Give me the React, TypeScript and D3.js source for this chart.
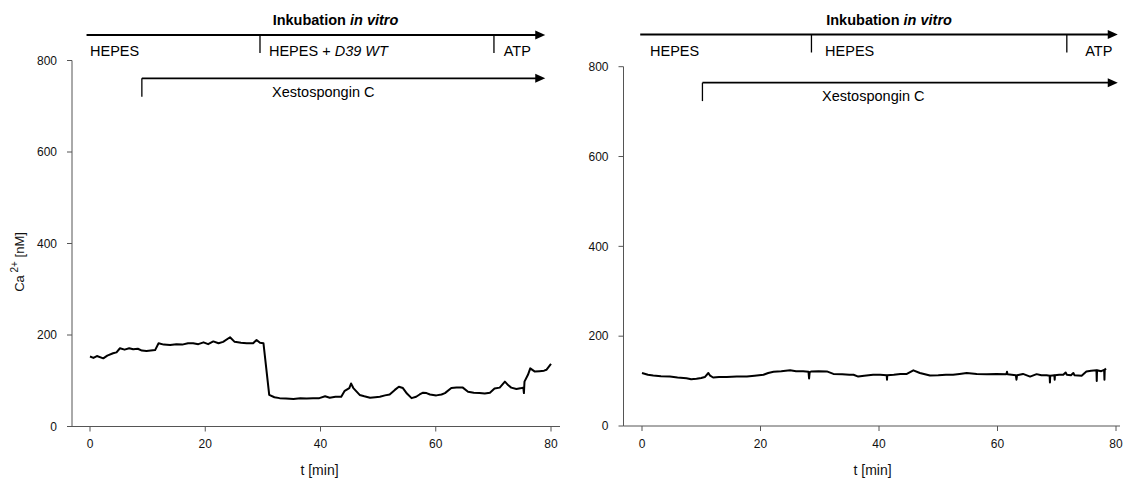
import React from "react";
import * as d3 from "d3";

// ---------- DATA ----------
const xTicks = [0, 20, 40, 60, 80];
const yTicks = [0, 200, 400, 600, 800];

// Left panel: HEPES -> HEPES + D39 WT -> ATP, Xestospongin C from ~9 min
const leftTrace: [number, number][] = [
  [0, 153], [0.6, 150], [1.2, 154], [2.3, 149], [3.0, 155], [4.0, 160], [4.6, 162],
  [5.2, 171], [6.0, 168], [6.8, 171], [7.5, 169], [8.3, 170], [9.0, 166], [9.8, 165],
  [11.3, 167], [11.9, 182], [12.8, 179], [13.9, 178], [15.0, 180], [16.0, 179],
  [17.0, 182], [17.9, 182], [18.8, 180], [19.7, 184], [20.5, 180], [21.4, 186],
  [22.3, 182], [23.1, 185], [24.3, 195], [25.1, 185], [26.2, 183], [27.2, 182],
  [28.3, 182], [28.9, 189], [29.5, 183], [30.1, 182],
  [31.1, 69], [32.0, 64], [32.9, 62], [34.0, 61], [35.3, 60], [36.5, 62], [37.6, 61],
  [38.7, 62], [39.8, 62], [40.8, 66], [41.6, 63], [42.6, 65], [43.6, 65],
  [44.2, 78], [45.0, 84], [45.3, 94], [45.7, 84], [46.8, 69], [47.6, 66], [48.6, 63],
  [49.5, 64], [50.3, 65], [51.2, 68], [52.0, 70], [52.9, 80], [53.6, 87], [54.3, 84],
  [55.0, 72], [55.8, 62], [56.6, 65], [57.2, 70], [57.8, 74], [58.4, 73], [59.0, 70],
  [60.1, 68], [61.0, 70], [61.6, 73], [62.7, 84], [63.6, 85], [64.7, 85], [65.6, 76],
  [66.6, 74], [67.6, 73], [68.5, 72], [69.4, 74], [70.2, 83], [71.1, 85], [72.0, 98],
  [72.6, 90], [73.1, 85], [74.0, 82], [74.9, 84], [75.2, 85], [75.3, 73], [75.4, 98],
  [76.0, 113], [76.4, 127], [77.2, 120], [78.0, 121], [78.8, 122], [79.2, 124], [80.0, 137],
];

// Right panel: HEPES -> HEPES -> ATP, Xestospongin C from ~10 min
const rightTrace: [number, number][] = [
  [0, 118], [1.0, 114], [1.9, 112.5], [3.2, 111], [4.7, 110], [6.0, 108], [7.5, 106.5],
  [8.3, 104], [9.2, 105], [10.0, 107], [10.6, 109], [11.2, 118], [11.5, 112], [12.0, 108],
  [13.0, 109], [14.3, 109], [16.0, 110], [17.7, 110], [19.0, 112], [20.5, 114],
  [21.3, 118], [22.2, 121], [23.5, 122], [25.0, 124], [26.0, 122], [27.2, 122],
  [28.1, 121], [28.2, 106], [28.3, 120], [28.6, 121.5], [29.8, 122], [31.2, 121.5],
  [32.3, 116], [33.8, 115], [35.0, 114], [35.7, 114], [36.5, 110], [37.5, 112],
  [39.0, 114], [40.2, 114], [41.3, 113], [41.35, 103], [41.4, 113], [42.5, 114],
  [43.6, 116], [44.7, 116], [45.8, 124], [46.9, 118], [48.6, 112.5], [50.0, 113],
  [51.3, 114], [52.5, 114], [53.6, 116], [54.8, 118], [56.5, 116], [58.2, 115.5],
  [59.8, 116], [61.5, 115.5], [61.6, 121], [61.7, 115], [63.1, 113], [63.2, 103],
  [63.3, 113], [64.3, 116], [65.5, 110], [66.6, 115.5], [67.4, 113], [68.3, 113],
  [68.8, 112], [68.85, 97], [68.9, 112], [69.6, 113], [69.65, 103], [69.7, 113],
  [70.4, 114], [71.1, 114], [71.5, 119], [71.7, 114], [72.4, 113], [72.8, 118],
  [73.0, 113], [74.2, 112], [75.0, 121.5], [75.8, 123], [76.7, 124], [76.75, 100],
  [76.8, 124], [77.5, 122], [78.0, 125], [78.05, 103], [78.1, 125], [78.3, 128],
];

// Annotations (times in minutes)
const leftIncubation = { start: -0.6, end: 79, boundaries: [29.5, 70.1], title: 42.6 };
const rightIncubation = { start: -0.3, end: 80.3, boundaries: [28.6, 71.7], title: 41.7 };
const leftPhaseLabels = ["HEPES", "HEPES + ", "ATP"];
const leftPhaseItalic = ["", "D39 WT", ""];
const leftPhaseAt = [0, 31.06, 71.8];
const rightPhaseLabels = ["HEPES", "HEPES", "ATP"];
const rightPhaseAt = [1.35, 30.9, 74.8];
const leftXesto = { start: 9, end: 79, label: 31.6 };
const rightXesto = { start: 10.2, end: 80.3, label: 30.4 };

const FONT = "'Liberation Sans', Arial, Helvetica, sans-serif";
const AXIS = "#555";

type PanelProps = {
  x0: number; x80: number; axisEnd: number; yAxisX: number;
  y0: number; y800: number;
  trace: [number, number][];
  inc: { start: number; end: number; boundaries: number[]; title: number };
  phaseLabels: string[]; phaseItalic: string[]; phaseAt: number[];
  xesto: { start: number; end: number; label: number };
  incY: number; xestoY: number;
  yLabel: boolean; xLabelCenter: number;
};

function Arrow({ x, y }: { x: number; y: number }) {
  return <path d={`M${x},${y} L${x - 10},${y - 4.5} L${x - 10},${y + 4.5} Z`} fill="#000" />;
}

function Panel(p: PanelProps) {
  const x = d3.scaleLinear().domain([0, 80]).range([p.x0, p.x80]);
  const y = d3.scaleLinear().domain([0, 800]).range([p.y0, p.y800]);
  const line = d3.line<[number, number]>().x(d => x(d[0])).y(d => y(d[1]));
  const incY = p.incY;
  const xy = p.xestoY;
  return (
    <g fontFamily={FONT}>
      {/* y axis */}
      <line x1={p.yAxisX} x2={p.yAxisX} y1={y(800)} y2={y(0)} stroke={AXIS} strokeWidth={1} />
      {yTicks.map(t => (
        <g key={"y" + t}>
          <line x1={p.yAxisX - 5} x2={p.yAxisX} y1={y(t)} y2={y(t)} stroke={AXIS} />
          <text x={p.yAxisX - 15} y={y(t)} dy="0.35em" textAnchor="end" fontSize={12} fill="#111">{t}</text>
        </g>
      ))}
      {/* x axis */}
      <line x1={p.yAxisX} x2={p.axisEnd} y1={y(0)} y2={y(0)} stroke={AXIS} strokeWidth={1} />
      {xTicks.map(t => (
        <g key={"x" + t}>
          <line x1={x(t)} x2={x(t)} y1={y(0)} y2={y(0) + 5} stroke={AXIS} />
          <text x={x(t)} y={y(0) + 21.5} textAnchor="middle" fontSize={12} fill="#111">{t}</text>
        </g>
      ))}
      <text x={p.xLabelCenter} y={475} textAnchor="middle" fontSize={14} fill="#111">t [min]</text>
      {p.yLabel && (
        <text transform={`translate(24,262) rotate(-90)`} textAnchor="middle" fontSize={13} fill="#111">
          Ca<tspan dy="-6" fontSize={10}> 2+</tspan><tspan dy="6"> [nM]</tspan>
        </text>
      )}
      {/* trace */}
      <path d={line(p.trace) || ""} fill="none" stroke="#000" strokeWidth={2} strokeLinejoin="round" />
      {/* incubation annotation */}
      <text x={x(p.inc.title)} y={incY - 10} textAnchor="middle" fontSize={14.5} fontWeight="bold" fill="#000">
        Inkubation <tspan fontStyle="italic">in vitro</tspan>
      </text>
      <line x1={x(p.inc.start)} x2={x(p.inc.end) - 8} y1={incY} y2={incY} stroke="#000" strokeWidth={1.8} />
      <Arrow x={x(p.inc.end)} y={incY} />
      {p.inc.boundaries.map(b => (
        <line key={"b" + b} x1={x(b)} x2={x(b)} y1={incY} y2={incY + 18} stroke="#000" strokeWidth={1.3} />
      ))}
      {p.phaseLabels.map((lab, i) => (
        <text key={"ph" + i} x={x(p.phaseAt[i])} y={incY + 21} fontSize={14.5} fill="#000">
          {lab}{p.phaseItalic[i] ? <tspan fontStyle="italic">{p.phaseItalic[i]}</tspan> : null}
        </text>
      ))}
      {/* xestospongin annotation */}
      <line x1={x(p.xesto.start)} x2={x(p.xesto.start)} y1={xy} y2={xy + 18.4} stroke="#000" strokeWidth={1.3} />
      <line x1={x(p.xesto.start)} x2={x(p.xesto.end) - 8} y1={xy} y2={xy} stroke="#000" strokeWidth={1.8} />
      <Arrow x={x(p.xesto.end)} y={xy} />
      <text x={x(p.xesto.label)} y={xy + 18.4} fontSize={14.5} fill="#000">Xestospongin C</text>
    </g>
  );
}

export default function App() {
  return (
    <svg width={1126} height={479} style={{ position: "absolute", left: 0, top: 0, background: "#fff" }}>
      <rect width={1126} height={479} fill="#fff" />
      <Panel
        x0={90} x80={551} axisEnd={560} yAxisX={72} y0={426.5} y800={60.5}
        trace={leftTrace} inc={leftIncubation}
        phaseLabels={leftPhaseLabels} phaseItalic={leftPhaseItalic} phaseAt={leftPhaseAt}
        xesto={leftXesto} incY={35} xestoY={78.3} yLabel={true} xLabelCenter={319.5}
      />
      <Panel
        x0={642} x80={1116} axisEnd={1120} yAxisX={623.5} y0={426} y800={66.7}
        trace={rightTrace} inc={rightIncubation}
        phaseLabels={rightPhaseLabels} phaseItalic={["", "", ""]} phaseAt={rightPhaseAt}
        xesto={rightXesto} incY={34.5} xestoY={82.7} yLabel={false} xLabelCenter={872.6}
      />
    </svg>
  );
}
